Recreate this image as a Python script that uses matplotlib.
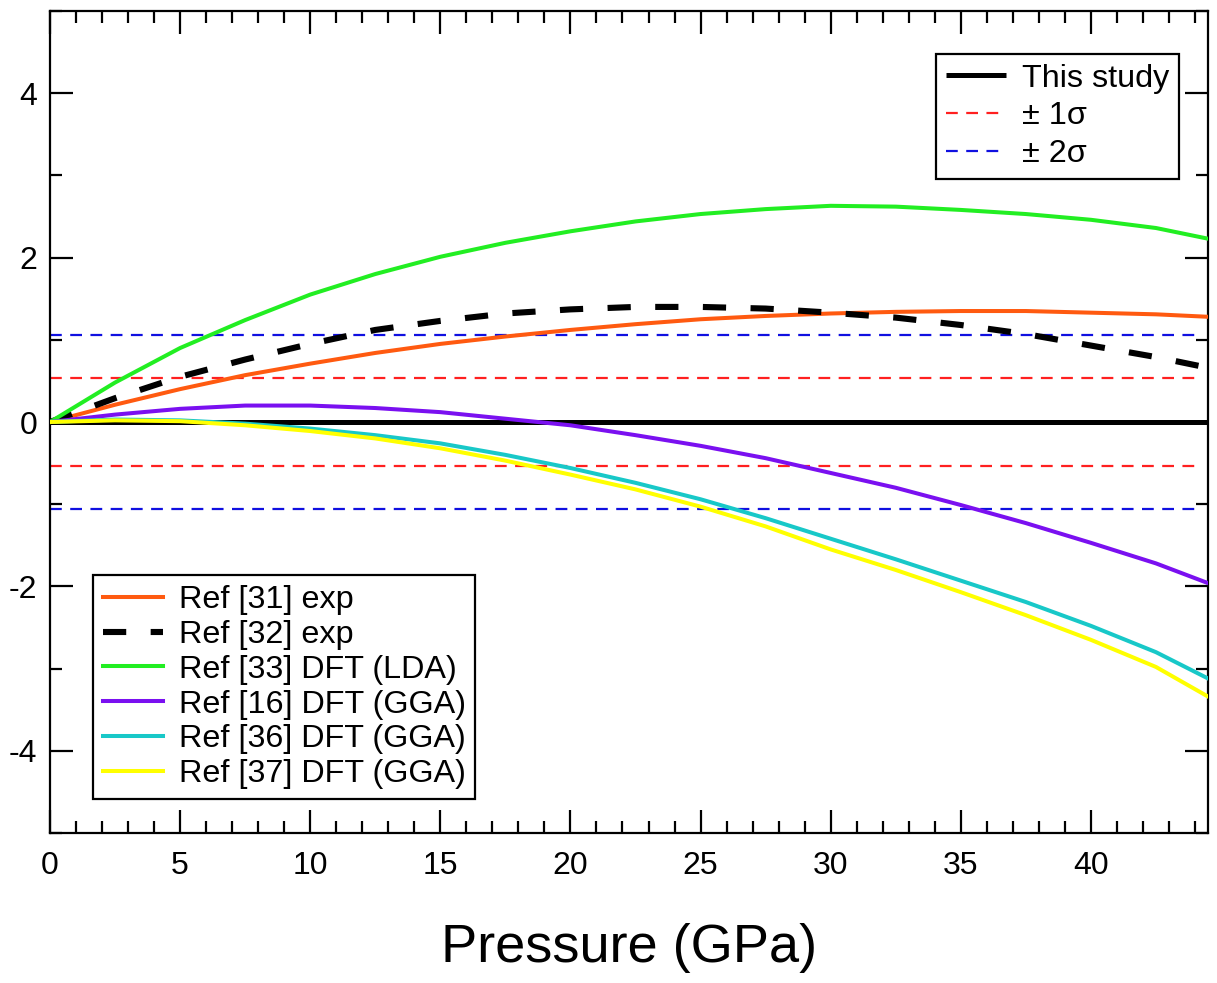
import matplotlib
matplotlib.use("Agg")
import matplotlib.pyplot as plt
from matplotlib.ticker import MultipleLocator

plt.rcParams['font.family'] = ['Liberation Sans', 'DejaVu Sans']

pressure = [0, 2.5, 5, 7.5, 10, 12.5, 15, 17.5, 20, 22.5, 25, 27.5, 30, 32.5, 35, 37.5, 40, 42.5, 44.5]
ref31_exp = [0, 0.21, 0.40, 0.57, 0.71, 0.84, 0.95, 1.04, 1.12, 1.19, 1.25, 1.29, 1.32, 1.34, 1.35, 1.35, 1.33, 1.31, 1.28]
ref32_exp = [0, 0.29, 0.55, 0.76, 0.95, 1.12, 1.23, 1.32, 1.37, 1.40, 1.40, 1.38, 1.33, 1.27, 1.18, 1.07, 0.93, 0.79, 0.66]
ref33_lda = [0, 0.48, 0.90, 1.24, 1.55, 1.80, 2.01, 2.18, 2.32, 2.44, 2.53, 2.59, 2.63, 2.62, 2.58, 2.53, 2.46, 2.36, 2.23]
ref16_gga = [0, 0.09, 0.16, 0.20, 0.20, 0.17, 0.12, 0.04, -0.04, -0.16, -0.29, -0.44, -0.62, -0.80, -1.01, -1.23, -1.47, -1.72, -1.96]
ref36_gga = [0, 0.03, 0.02, -0.02, -0.08, -0.16, -0.26, -0.40, -0.56, -0.74, -0.94, -1.17, -1.42, -1.67, -1.93, -2.19, -2.48, -2.80, -3.12]
ref37_gga = [0, 0.02, 0.01, -0.04, -0.11, -0.20, -0.32, -0.47, -0.64, -0.82, -1.03, -1.27, -1.55, -1.80, -2.07, -2.35, -2.65, -2.98, -3.34]

sigma1 = 0.53
sigma2 = 1.06
x_ticks = [0, 5, 10, 15, 20, 25, 30, 35, 40]
y_ticks = [-4, -2, 0, 2, 4]

fig = plt.figure(figsize=(12.17, 9.83), dpi=100)
ax = fig.add_axes([50/1217, 1-833/983, (1208-50)/1217, (833-11)/983])

# reference lines
h0, = ax.plot([0, 44.5], [0, 0], color='black', lw=3.6, solid_capstyle='butt', label='This study', zorder=3)
hr, = ax.plot([0, 44.2], [sigma1, sigma1], color='#ff2020', lw=1.6, ls=(0, (5.3, 3.8)), label='\u00b1 1\u03c3', zorder=2)
ax.plot([0, 44.2], [-sigma1, -sigma1], color='#ff2020', lw=1.6, ls=(0, (5.3, 3.8)), zorder=2)
hb, = ax.plot([0, 44.2], [sigma2, sigma2], color='#1010e0', lw=1.6, ls=(0, (5.3, 3.8)), label='\u00b1 2\u03c3', zorder=2)
ax.plot([0, 44.2], [-sigma2, -sigma2], color='#1010e0', lw=1.6, ls=(0, (5.3, 3.8)), zorder=2)

lw = 2.9
h1, = ax.plot(pressure, ref31_exp, color='#ff5a10', lw=lw, label='Ref [31] exp', zorder=4)
h2, = ax.plot(pressure, ref32_exp, color='black', lw=4.4, ls=(0, (3.8, 4.0)), dash_capstyle='butt', label='Ref [32] exp', zorder=4)
h3, = ax.plot(pressure, ref33_lda, color='#22ee22', lw=lw, label='Ref [33] DFT (LDA)', zorder=4)
h4, = ax.plot(pressure, ref16_gga, color='#7a10f0', lw=lw, label='Ref [16] DFT (GGA)', zorder=4)
h5, = ax.plot(pressure, ref36_gga, color='#18c8c8', lw=lw, label='Ref [36] DFT (GGA)', zorder=4)
h6, = ax.plot(pressure, ref37_gga, color='#ffff00', lw=lw, label='Ref [37] DFT (GGA)', zorder=4)

ax.set_xlim(0, 44.5)
ax.set_ylim(-5, 5)
ax.set_xticks(x_ticks)
ax.set_yticks(y_ticks)
ax.set_yticklabels([str(v) for v in y_ticks])
ax.xaxis.set_minor_locator(MultipleLocator(1))
ax.yaxis.set_minor_locator(MultipleLocator(1))
ax.tick_params(which='both', direction='in', top=True, right=True, width=1.6, colors='black')
ax.tick_params(which='major', length=16.5, labelsize=23)
ax.tick_params(which='minor', length=8.5)
ax.tick_params(axis='x', which='major', pad=13)
ax.tick_params(axis='y', which='major', pad=9)
for s in ax.spines.values():
    s.set_linewidth(1.6)

ax.set_xlabel('Pressure (GPa)', fontsize=39, labelpad=30)

leg1 = ax.legend(handles=[h0, hr, hb], loc='upper right', bbox_to_anchor=(1179/1217, 1-54/983),
                 bbox_transform=fig.transFigure, fontsize=23.3, frameon=True, fancybox=False,
                 edgecolor='black', framealpha=1, handlelength=1.85, handletextpad=0.5,
                 labelspacing=0.24, borderpad=0.3, borderaxespad=0)
leg1.get_frame().set_linewidth(1.6)
ax.add_artist(leg1)

leg2 = ax.legend(handles=[h1, h2, h3, h4, h5, h6], loc='lower left', bbox_to_anchor=(93/1217, 1-799/983),
                 bbox_transform=fig.transFigure, fontsize=23.3, frameon=True, fancybox=False,
                 edgecolor='black', framealpha=1, handlelength=1.85, handletextpad=0.5,
                 labelspacing=0.15, borderpad=0.3, borderaxespad=0)
leg2.get_frame().set_linewidth(1.6)

fig.savefig('out.png', dpi=100)
